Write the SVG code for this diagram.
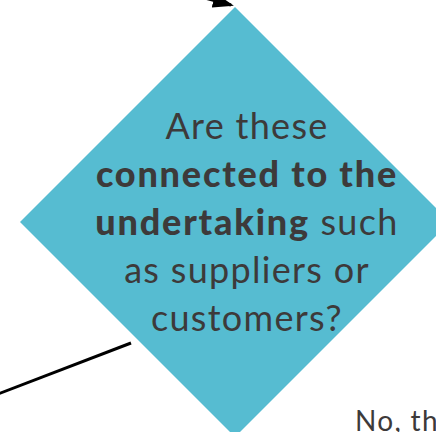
<svg xmlns="http://www.w3.org/2000/svg" width="436" height="432" viewBox="0 0 436 432">
  <style>
    .decision { fill: #56bcd1; }
    .label { font-family: Lato, "Noto Sans", sans-serif; font-size: 36px; font-weight: 400; fill: #3d3a3a; text-anchor: middle; letter-spacing: 1.3px; }
    .strong { font-weight: 900; letter-spacing: 1.8px; }
    .edge { stroke: #000; stroke-width: 3; fill: none; }
    .edge-label { font-family: Lato, "Noto Sans", sans-serif; font-size: 28px; fill: #3d3a3a; letter-spacing: 1.3px; }
  </style>
  <defs>
    <marker id="arrow" markerWidth="7" markerHeight="5" refX="6" refY="2.5" orient="auto" markerUnits="strokeWidth">
      <path d="M0,0 L7,2.5 L0,5 Z" fill="#000"/>
    </marker>
  </defs>

  <!-- connectors -->
  <g id="connectors">
    <path class="edge" d="M160,-14 L231,5" marker-end="url(#arrow)"/>
    <path class="edge" d="M131,343 L-2,394"/>
    <text class="edge-label" x="355" y="431">No, th</text>
  </g>

  <!-- decision node -->
  <g id="node-connected">
    <polygon class="decision" points="235,7 450,222 235,437 20,222"/>
    <text class="label" x="247" y="139">Are these</text>
    <text class="label strong" x="247" y="187">connected to the</text>
    <text class="label" x="247" y="235"><tspan class="strong">undertaking</tspan> such</text>
    <text class="label" x="247" y="283">as suppliers or</text>
    <text class="label" x="247" y="331">customers?</text>
  </g>
</svg>
